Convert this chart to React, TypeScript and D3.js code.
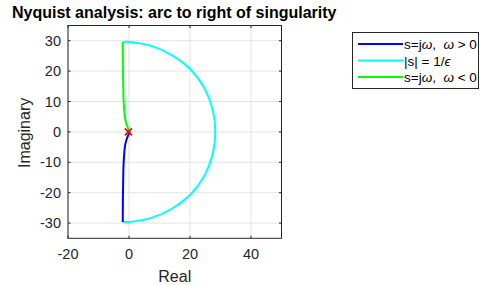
import React from "react";
import * as d3 from "d3";

const xTicks = [-20, 0, 20, 40];
const yTicks = [-30, -20, -10, 0, 10, 20, 30];
const xDomain: [number, number] = [-20, 50];
const yDomain: [number, number] = [-35, 35];

// s = jw, w > 0 (blue)
const bluePts: [number, number][] = [
  [0.3, 0], [-0.2, -1.0], [-0.8, -2.5], [-1.3, -4.5], [-1.6, -7.7], [-1.8, -11], [-1.9, -15.4], [-2.0, -22], [-2.05, -29.6],
];
// s = jw, w < 0 (green)
const greenPts: [number, number][] = [
  [-2.05, 29.6], [-2.0, 22], [-1.9, 15.4], [-1.8, 11], [-1.6, 7.7], [-1.3, 4.5], [-0.8, 2.5], [-0.2, 1.0], [0.3, 0],
];
// |s| = 1/eps (cyan): image of the arc, as angle (deg) and magnitude
const arcAngles = [-94, -90, -75, -60, -45, -30, -15, 0, 15, 30, 45, 60, 75, 90, 94];
const arcRadii = [29.65, 29.6, 29.2, 28.9, 28.8, 28.6, 28.4, 28.3, 28.4, 28.6, 28.8, 28.9, 29.2, 29.6, 29.65];
const marker: [number, number] = [-0.2, 0];

const L = 68, R = 281.5, T = 25.5, B = 238.3;
const axisColor = "#262626";
const font = "'Liberation Sans', Arial, Helvetica, sans-serif";

export default function App() {
  const x = d3.scaleLinear().domain(xDomain).range([L, R]);
  const y = d3.scaleLinear().domain(yDomain).range([B, T]);
  const line = d3.line<[number, number]>().x(d => x(d[0])).y(d => y(d[1])).curve(d3.curveCatmullRom);
  const arcPts: [number, number][] = arcAngles.map((a, i) => {
    const t = (a * Math.PI) / 180;
    return [arcRadii[i] * Math.cos(t), arcRadii[i] * Math.sin(t)];
  });
  const mx = x(marker[0]), my = y(marker[1]);
  const tl = 2.5;
  return (
    <svg width={481} height={285} style={{ position: "absolute", left: 0, top: 0, background: "#fff" }} fontFamily={font}>
      <rect x={0} y={0} width={481} height={285} fill="#fff" />
      {/* grid */}
      {xTicks.map(t => <line key={"gx" + t} x1={x(t)} x2={x(t)} y1={T} y2={B} stroke="#e3e3e3" strokeWidth={1} />)}
      {yTicks.map(t => <line key={"gy" + t} x1={L} x2={R} y1={y(t)} y2={y(t)} stroke="#e3e3e3" strokeWidth={1} />)}
      {/* curves */}
      <path d={line(arcPts) || ""} fill="none" stroke="#00ffff" strokeWidth={2} />
      <path d={line(bluePts) || ""} fill="none" stroke="#0000ff" strokeWidth={2} />
      <path d={line(greenPts) || ""} fill="none" stroke="#00ff00" strokeWidth={2} />
      <g stroke="#ff0000" strokeWidth={1.8}>
        <line x1={mx - 3.5} x2={mx + 3.5} y1={my - 3.5} y2={my + 3.5} />
        <line x1={mx - 3.5} x2={mx + 3.5} y1={my + 3.5} y2={my - 3.5} />
      </g>
      {/* axes box */}
      <rect x={L} y={T} width={R - L} height={B - T} fill="none" stroke={axisColor} strokeWidth={1} />
      {xTicks.map(t => (
        <g key={"tx" + t}>
          <line x1={x(t)} x2={x(t)} y1={B} y2={B - tl} stroke={axisColor} />
          <line x1={x(t)} x2={x(t)} y1={T} y2={T + tl} stroke={axisColor} />
          <text x={x(t)} y={259} textAnchor="middle" fontSize={14.5} fill={axisColor}>{t}</text>
        </g>
      ))}
      {yTicks.map(t => (
        <g key={"ty" + t}>
          <line x1={L} x2={L + tl} y1={y(t)} y2={y(t)} stroke={axisColor} />
          <line x1={R} x2={R - tl} y1={y(t)} y2={y(t)} stroke={axisColor} />
          <text x={61} y={y(t) + 5} textAnchor="end" fontSize={14.5} fill={axisColor}>{t}</text>
        </g>
      ))}
      <text x={(L + R) / 2} y={282} textAnchor="middle" fontSize={16} fill={axisColor}>Real</text>
      <text transform={`translate(30,${(T + B) / 2 + 1}) rotate(-90)`} textAnchor="middle" fontSize={16} fill={axisColor}>Imaginary</text>
      <text x={12} y={18} fontSize={16} fontWeight="bold" fill="#000">Nyquist analysis: arc to right of singularity</text>
      {/* legend */}
      <rect x={352.5} y={32.5} width={126} height={56} fill="#fff" stroke={axisColor} strokeWidth={1} />
      <line x1={358} x2={403} y1={44} y2={44} stroke="#0000ff" strokeWidth={2} />
      <line x1={358} x2={403} y1={60.5} y2={60.5} stroke="#00ffff" strokeWidth={2} />
      <line x1={358} x2={403} y1={77} y2={77} stroke="#00ff00" strokeWidth={2} />
      <text x={404} y={49} fontSize={13.5} fill="#000" xmlSpace="preserve">s=j<tspan fontStyle="italic">ω</tspan>,  <tspan fontStyle="italic">ω</tspan> &gt; 0</text>
      <text x={404} y={65.5} fontSize={13.5} fill="#000" xmlSpace="preserve">|s| = 1/<tspan fontStyle="italic">ϵ</tspan></text>
      <text x={404} y={82} fontSize={13.5} fill="#000" xmlSpace="preserve">s=j<tspan fontStyle="italic">ω</tspan>,  <tspan fontStyle="italic">ω</tspan> &lt; 0</text>
    </svg>
  );
}
